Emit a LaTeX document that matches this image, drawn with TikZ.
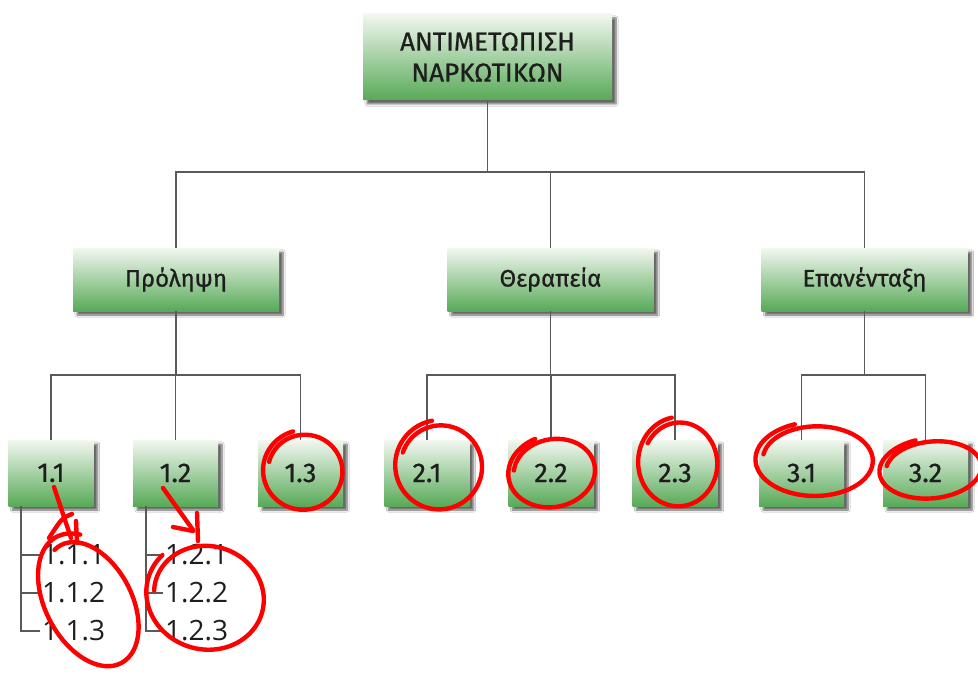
\documentclass[tikz,border=0pt]{standalone}
\usepackage{fontspec}
\setmainfont{Fira Sans}[UprightFeatures={FakeBold=0.8}]
\newfontfamily\leaffont{Open Sans}
\usetikzlibrary{positioning, shadows.blur}
\definecolor{boxtop}{RGB}{242,247,240}
\definecolor{boxbot}{RGB}{88,170,88}
\definecolor{ink}{RGB}{30,30,30}
\tikzstyle{box}=[draw=none, top color=boxtop, bottom color=boxbot, text=ink, inner sep=0pt, align=center, blur shadow={shadow xshift=4pt, shadow yshift=-4pt, shadow blur steps=6, shadow opacity=60}]
\tikzstyle{topic}=[box, minimum width=206pt, minimum height=63pt, font=\fontsize{24}{30}\selectfont]
\tikzstyle{item}=[box, minimum width=85pt, minimum height=66pt, font=\fontsize{27}{30}\selectfont]
\tikzstyle{leaf}=[inner sep=2pt, anchor=west, text=ink, font=\leaffont\fontsize{28}{30}\selectfont]
\tikzstyle{wire}=[draw=black!65, line width=1.8pt]
\tikzstyle{redmark}=[draw=red, line width=4.4pt, line cap=round, line join=round]

% hand drawn loop: centre x, centre y, rx, ry, tilt, start angle, sweep
\newcommand{\redloop}[7]{%
  \draw[redmark] plot[smooth, samples=70, domain=0:#7, variable=\t]
    ({#1+(1-0.14*\t/#7)*(#3*cos(#6-\t)*cos(#5)-#4*sin(#6-\t)*sin(#5))},
     {#2+(1-0.14*\t/#7)*(#3*cos(#6-\t)*sin(#5)+#4*sin(#6-\t)*cos(#5))});
}

\begin{document}
\begin{tikzpicture}[x=1pt, y=-1pt]
\useasboundingbox[fill=white] (0,0) rectangle (978,674);

\node[box, minimum width=249pt, minimum height=86pt, font=\fontsize{26}{31}\selectfont] (root) at (487.5,57) {ΑΝΤΙΜΕΤΩΠΙΣΗ\\ΝΑΡΚΩΤΙΚΩΝ};

\node[topic] (pro) at (176,279.5) {Πρόληψη};
\node[topic] (the) at (550.5,279.5) {Θεραπεία};
\node[topic] (epa) at (864.5,279.5) {Επανένταξη};

\node[item] (n11) at (51,473) {1.1};
\node[item] (n12) at (175.5,473) {1.2};
\node[item] (n13) at (300.5,473) {1.3};
\node[item] (n21) at (427,473) {2.1};
\node[item] (n22) at (551,473) {2.2};
\node[item] (n23) at (675,473) {2.3};
\node[item] (n31) at (801.5,473) {3.1};
\node[item] (n32) at (925.5,473) {3.2};

\node[leaf] (n111) at (40,555) {1.1.1};
\node[leaf] (n112) at (40,593) {1.1.2};
\node[leaf] (n113) at (40,631) {1.1.3};
\node[leaf] (n121) at (163,555) {1.2.1};
\node[leaf] (n122) at (163,593) {1.2.2};
\node[leaf] (n123) at (163,631) {1.2.3};

\coordinate (rail1) at (0,172);
\coordinate (rail2) at (0,375);

\begin{scope}[on background layer/.try]
\draw[wire] (root.south) -- (root.south |- rail1);
\draw[wire] (pro.north) |- (epa.north |- rail1) -- (epa.north);
\draw[wire] (the.north) -- (the.north |- rail1);

\draw[wire] (pro.south) -- (pro.south |- rail2);
\draw[wire] (n11.north) |- (n13.north |- rail2) -- (n13.north);
\draw[wire] (n12.north) -- (n12.north |- rail2);

\draw[wire] (the.south) -- (the.south |- rail2);
\draw[wire] (n21.north) |- (n23.north |- rail2) -- (n23.north);
\draw[wire] (n22.north) -- (n22.north |- rail2);

\draw[wire] (epa.south) -- (epa.south |- rail2);
\draw[wire] (n31.north) |- (n32.north |- rail2) -- (n32.north);

\draw[wire] ([xshift=13pt]n11.south west) |- (n113.west);
\draw[wire] ([xshift=13pt]n11.south west |- n111.west) -- (n111.west);
\draw[wire] ([xshift=13pt]n11.south west |- n112.west) -- (n112.west);
\draw[wire] ([xshift=13pt]n12.south west) |- (n123.west);
\draw[wire] ([xshift=13pt]n12.south west |- n121.west) -- (n121.west);
\draw[wire] ([xshift=13pt]n12.south west |- n122.west) -- (n122.west);
\end{scope}

% red marks
\redloop{304}{471}{42}{41}{0}{-105}{420}
\redloop{440}{466}{46}{46}{0}{-100}{420}
\redloop{553}{472}{46}{37}{-10}{-105}{420}
\redloop{679}{463}{42}{46}{0}{-100}{410}
\redloop{816}{460}{62}{38}{0}{-110}{420}
\redloop{932}{469}{54}{31}{-5}{-105}{420}
\redloop{90}{602}{74}{46}{62}{-150}{400}
\redloop{207}{596}{62}{56}{15}{-150}{400}

\draw[redmark] (54,487) -- (71,538);
\draw[redmark] (72,514) .. controls (62,518) .. (49,538);
\draw[redmark] (76,521) -- (77,543);
\draw[redmark] (163,488) -- (193,530);
\draw[redmark] (173,527) -- (193,531);
\draw[redmark] (197,513) -- (198,541);
\end{tikzpicture}
\end{document}
